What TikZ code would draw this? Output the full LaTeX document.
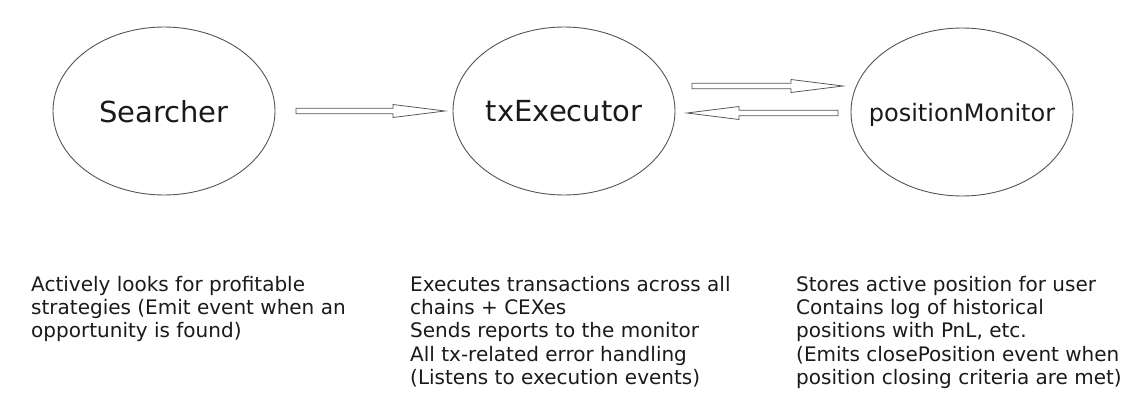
\documentclass[tikz,border=0pt]{standalone}
\usepackage{fontspec}
\setmainfont{DejaVu Sans}
\usetikzlibrary{calc,shapes.geometric}
\definecolor{edgegray}{HTML}{555555}
\definecolor{txt}{HTML}{1A1A1A}
\tikzset{
  comp/.style={draw=edgegray, line width=0.9pt, ellipse, minimum width=222pt, minimum height=168pt, inner sep=0pt, text depth=0pt, text=txt},
  desc/.style={anchor=north west, inner sep=0pt, align=left, text=txt, font=\fontsize{20}{23.3}\selectfont},
  blockarr/.style={draw=edgegray, line width=0.8pt, fill=white, line join=miter,
    to path={let \p1=(\tikztostart), \p2=(\tikztotarget), \n1={sign(\x2-\x1)} in
      (\x1,\y1+2.8pt) -- (\x2-\n1*52pt,\y1+2.8pt) -- (\x2-\n1*52pt,\y1+6.5pt) -- (\x2,\y2)
      -- (\x2-\n1*52pt,\y1-6.5pt) -- (\x2-\n1*52pt,\y1-2.8pt) -- (\x1,\y1-2.8pt) -- cycle}}
}
\begin{document}
\begin{tikzpicture}[x=1pt,y=-1pt]
\useasboundingbox (0,0) rectangle (1125,412);
\node[comp, font=\fontsize{29}{35}\selectfont] (searcher) at (164,111) {\makebox[0pt]{Searcher}};
\node[comp, font=\fontsize{29}{35}\selectfont] (exec) at (564,111) {\makebox[0pt]{txExecutor}};
\node[comp, font=\fontsize{24}{29}\selectfont] (mon) at (962,112) {\makebox[0pt]{positionMonitor}};

\coordinate (a1s) at (296,111);
\coordinate (a1e) at (445,111);
\coordinate (a2s) at (692,86);
\coordinate (a2e) at (843,86);
\coordinate (a3s) at (838,113);
\coordinate (a3e) at (687,113);
\draw[blockarr] (a1s) to (a1e);
\draw[blockarr] (a2s) to (a2e);
\draw[blockarr] (a3s) to (a3e);

\node[desc] (d1) at (31,276) {Actively looks for profitable\\strategies (Emit event when an\\opportunity is found)};
\node[desc] (d2) at (410,276) {Executes transactions across all\\chains + CEXes\\Sends reports to the monitor\\All tx-related error handling\\(Listens to execution events)};
\node[desc] (d3) at (796,276) {Stores active position for user\\Contains log of historical\\positions with PnL, etc.\\(Emits closePosition event when\\position closing criteria are met)};
\end{tikzpicture}
\end{document}
